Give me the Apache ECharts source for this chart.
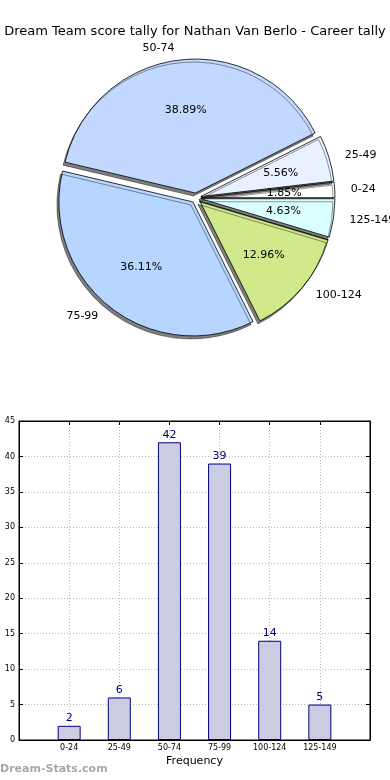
<!DOCTYPE html>
<html>
<head>
<meta charset="utf-8">
<script src="https://cdn.jsdelivr.net/npm/echarts@6/dist/echarts.min.js"></script>
<style>
html,body{margin:0;padding:0;background:#fff;}
#c{width:390px;height:780px;}
</style>
</head>
<body>
<div id="c"></div>
<script>
var titleText = 'Dream Team score tally for Nathan Van Berlo - Career tally';
var categories = ['0-24', '25-49', '50-74', '75-99', '100-124', '125-149'];
var counts = [2, 6, 42, 39, 14, 5];
var sliceColors = ['#ffffff', '#e9f0ff', '#c3d8ff', '#b6d5ff', '#cfe98b', '#dbffff'];
var yTicks = [0, 5, 10, 15, 20, 25, 30, 35, 40, 45];
var xAxisName = 'Frequency';
var watermark = 'Dream-Stats.com';

var total = counts.reduce(function (a, b) { return a + b; }, 0);
var FONT = 'DejaVu Sans';
var cx = 196, cy = 198, R = 134;

var pieData = categories.map(function (c, i) {
  return {
    name: c, value: counts[i], selected: true,
    itemStyle: { color: sliceColors[i] }
  };
});
var pieLabelData = categories.map(function (c, i) {
  return { name: c, value: counts[i], selected: true };
});

var chart = echarts.init(document.getElementById('c'), null, { renderer: 'canvas' });
chart.setOption({
  animation: false,
  backgroundColor: '#ffffff',
  title: {
    text: titleText, left: 'center', top: 20,
    textStyle: { fontFamily: FONT, fontSize: 13, fontWeight: 'normal', color: '#000' }
  },
  graphic: [{
    type: 'text', left: 0, top: 764,
    style: { text: watermark, fontFamily: FONT, fontSize: 11, fontWeight: 'bold', fill: '#a8a8a8' }
  }],
  grid: { left: 19, right: 20, top: 421, bottom: 40, show: true, borderColor: '#000', borderWidth: 1, backgroundColor: 'transparent' },
  xAxis: [{
    type: 'value', min: -1, max: 6, interval: 1,
    name: xAxisName, nameLocation: 'middle', nameGap: 16,
    nameTextStyle: { fontFamily: FONT, fontSize: 11, color: '#000' },
    axisLine: { show: true, onZero: false, lineStyle: { color: '#000' } },
    axisTick: { show: true, inside: true, length: 4, lineStyle: { color: '#000' } },
    axisLabel: {
      fontFamily: FONT, fontSize: 8, color: '#000', margin: 4,
      formatter: function (v) { return categories[v] !== undefined ? categories[v] : ''; }
    },
    splitLine: { show: true, lineStyle: { color: '#b8b8b8', type: [1, 2], width: 1 } }
  }, {
    type: 'value', position: 'top', min: -1, max: 6, interval: 1,
    axisLine: { show: true, onZero: false, lineStyle: { color: '#000' } },
    axisTick: { show: true, inside: true, length: 4, lineStyle: { color: '#000' } },
    axisLabel: { show: false }, splitLine: { show: false }
  }],
  yAxis: [{
    type: 'value', min: 0, max: 45, interval: 5,
    axisLine: { show: true, onZero: false, lineStyle: { color: '#000' } },
    axisTick: { show: true, inside: true, length: 4, lineStyle: { color: '#000' } },
    axisLabel: {
      fontFamily: FONT, fontSize: 8, color: '#000', margin: 4,
      formatter: function (v) { return yTicks.indexOf(v) >= 0 ? String(v) : ''; }
    },
    splitLine: { show: true, lineStyle: { color: '#b8b8b8', type: [1, 2], width: 1 } }
  }, {
    type: 'value', position: 'right', min: 0, max: 45, interval: 5,
    axisLine: { show: true, onZero: false, lineStyle: { color: '#000' } },
    axisTick: { show: true, inside: true, length: 4, lineStyle: { color: '#000' } },
    axisLabel: { show: false }, splitLine: { show: false }
  }],
  series: [{
    type: 'pie', center: [cx, cy], radius: R,
    startAngle: 0, clockwise: false,
    selectedMode: 'multiple', selectedOffset: 5,
    avoidLabelOverlap: false,
    emphasis: { disabled: true }, silent: true,
    itemStyle: {
      borderColor: '#000', borderWidth: 0.8,
      shadowColor: 'rgba(0,0,0,0.5)', shadowBlur: 0, shadowOffsetX: -2, shadowOffsetY: 3
    },
    select: { itemStyle: { borderColor: '#000', borderWidth: 0.8 } },
    label: {
      show: true, position: 'outside', formatter: '{b}',
      fontFamily: FONT, fontSize: 11, color: '#000', distanceToLabelLine: 4
    },
    labelLine: { show: false, length: 12, length2: 0 },
    data: pieData
  }, {
    type: 'pie', center: [cx, cy], radius: R * 1.2,
    startAngle: 0, clockwise: false,
    selectedMode: 'multiple', selectedOffset: 5,
    avoidLabelOverlap: false,
    emphasis: { disabled: true }, silent: true,
    itemStyle: { color: 'rgba(0,0,0,0)', borderWidth: 0 },
    select: { itemStyle: { color: 'rgba(0,0,0,0)', borderWidth: 0 } },
    label: {
      show: true, position: 'inside',
      fontFamily: FONT, fontSize: 11, color: '#000',
      formatter: function (p) { return (p.value / total * 100).toFixed(2) + '%'; }
    },
    labelLine: { show: false },
    data: pieLabelData
  }, {
    type: 'bar', xAxisIndex: 0, yAxisIndex: 0,
    barWidth: 23,
    itemStyle: { color: '#cbcbe1', borderColor: '#000080', borderWidth: 1 },
    label: {
      show: true, position: 'top', distance: 2,
      fontFamily: FONT, fontSize: 11, color: '#000080'
    },
    data: counts.map(function (v, i) { return [i, v]; })
  }]
});
</script>
</body>
</html>
